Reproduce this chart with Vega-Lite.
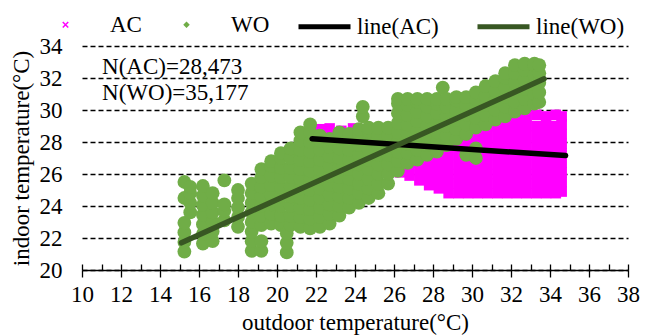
{
  "$schema": "https://vega.github.io/schema/vega-lite/v6.json",
  "width": 546,
  "height": 224,
  "autosize": {"type": "none"},
  "padding": {"left": 82, "top": 46, "right": 24, "bottom": 65},
  "config": {"view": {"stroke": null}, "font": "Liberation Serif"},
  "datasets": {
    "pts": [
      {"g":"AC","x":22.2,"y":28.2},{"g":"AC","x":22.2,"y":28.8},{"g":"AC","x":22.7,"y":28.3},{"g":"AC","x":22.7,"y":28.85},
      {"g":"AC","x":23.3,"y":28.2},{"g":"AC","x":23.3,"y":28.7},{"g":"AC","x":23.9,"y":28.3},{"g":"AC","x":23.9,"y":28.85},
      {"g":"AC","x":24.5,"y":28.2},{"g":"AC","x":24.5,"y":28.7},{"g":"AC","x":25.1,"y":28.2},{"g":"AC","x":25.1,"y":28.7},
      {"g":"AC","x":25.7,"y":26.3},{"g":"AC","x":25.7,"y":26.9},{"g":"AC","x":25.7,"y":27.5},{"g":"AC","x":25.7,"y":28.1},{"g":"AC","x":25.7,"y":28.6},
      {"g":"AC","x":26.3,"y":26.1},{"g":"AC","x":26.3,"y":26.7},{"g":"AC","x":26.3,"y":27.3},{"g":"AC","x":26.3,"y":27.9},{"g":"AC","x":26.3,"y":28.5},
      {"g":"AC","x":26.8,"y":25.9},{"g":"AC","x":26.8,"y":26.5},{"g":"AC","x":26.8,"y":27.1},{"g":"AC","x":26.8,"y":27.7},{"g":"AC","x":26.8,"y":28.3},
      {"g":"AC","x":27.3,"y":25.6},{"g":"AC","x":27.3,"y":26.2},{"g":"AC","x":27.3,"y":26.8},{"g":"AC","x":27.3,"y":27.4},{"g":"AC","x":27.3,"y":28.0},{"g":"AC","x":27.3,"y":28.6},
      {"g":"AC","x":27.8,"y":25.3},{"g":"AC","x":27.8,"y":25.9},{"g":"AC","x":27.8,"y":26.5},{"g":"AC","x":27.8,"y":27.1},{"g":"AC","x":27.8,"y":27.7},{"g":"AC","x":27.8,"y":28.3},
      {"g":"AC","x":28.3,"y":25.1},{"g":"AC","x":28.3,"y":25.7},{"g":"AC","x":28.3,"y":26.3},{"g":"AC","x":28.3,"y":26.9},{"g":"AC","x":28.3,"y":27.5},{"g":"AC","x":28.3,"y":28.1},{"g":"AC","x":28.3,"y":28.6},
      {"g":"AC","x":28.8,"y":24.8},{"g":"AC","x":28.8,"y":25.4},{"g":"AC","x":28.8,"y":26.0},{"g":"AC","x":28.8,"y":26.6},{"g":"AC","x":28.8,"y":27.2},{"g":"AC","x":28.8,"y":27.8},{"g":"AC","x":28.8,"y":28.4},
      {"g":"AC","x":29.3,"y":24.8},{"g":"AC","x":29.3,"y":25.4},{"g":"AC","x":29.3,"y":26.0},{"g":"AC","x":29.3,"y":26.6},{"g":"AC","x":29.3,"y":27.2},{"g":"AC","x":29.3,"y":27.8},{"g":"AC","x":29.3,"y":28.4},
      {"g":"AC","x":29.8,"y":24.8},{"g":"AC","x":29.8,"y":25.4},{"g":"AC","x":29.8,"y":26.0},{"g":"AC","x":29.8,"y":26.6},{"g":"AC","x":29.8,"y":27.2},{"g":"AC","x":29.8,"y":27.8},{"g":"AC","x":29.8,"y":28.4},{"g":"AC","x":29.8,"y":28.9},
      {"g":"AC","x":30.3,"y":24.8},{"g":"AC","x":30.3,"y":25.4},{"g":"AC","x":30.3,"y":26.0},{"g":"AC","x":30.3,"y":26.6},{"g":"AC","x":30.3,"y":27.2},{"g":"AC","x":30.3,"y":27.8},{"g":"AC","x":30.3,"y":28.4},{"g":"AC","x":30.3,"y":28.9},
      {"g":"AC","x":30.8,"y":24.8},{"g":"AC","x":30.8,"y":25.4},{"g":"AC","x":30.8,"y":26.0},{"g":"AC","x":30.8,"y":26.6},{"g":"AC","x":30.8,"y":27.2},{"g":"AC","x":30.8,"y":27.8},{"g":"AC","x":30.8,"y":28.4},{"g":"AC","x":30.8,"y":29.0},
      {"g":"AC","x":31.3,"y":24.8},{"g":"AC","x":31.3,"y":25.4},{"g":"AC","x":31.3,"y":26.0},{"g":"AC","x":31.3,"y":26.6},{"g":"AC","x":31.3,"y":27.2},{"g":"AC","x":31.3,"y":27.8},{"g":"AC","x":31.3,"y":28.4},{"g":"AC","x":31.3,"y":29.0},
      {"g":"AC","x":31.8,"y":24.8},{"g":"AC","x":31.8,"y":25.4},{"g":"AC","x":31.8,"y":26.0},{"g":"AC","x":31.8,"y":26.6},{"g":"AC","x":31.8,"y":27.2},{"g":"AC","x":31.8,"y":27.8},{"g":"AC","x":31.8,"y":28.4},{"g":"AC","x":31.8,"y":29.0},{"g":"AC","x":31.8,"y":29.4},
      {"g":"AC","x":32.3,"y":24.8},{"g":"AC","x":32.3,"y":25.4},{"g":"AC","x":32.3,"y":26.0},{"g":"AC","x":32.3,"y":26.6},{"g":"AC","x":32.3,"y":27.2},{"g":"AC","x":32.3,"y":27.8},{"g":"AC","x":32.3,"y":28.4},{"g":"AC","x":32.3,"y":29.0},{"g":"AC","x":32.3,"y":29.6},
      {"g":"AC","x":32.8,"y":24.8},{"g":"AC","x":32.8,"y":25.4},{"g":"AC","x":32.8,"y":26.0},{"g":"AC","x":32.8,"y":26.6},{"g":"AC","x":32.8,"y":27.2},{"g":"AC","x":32.8,"y":27.8},{"g":"AC","x":32.8,"y":28.4},{"g":"AC","x":32.8,"y":29.0},{"g":"AC","x":32.8,"y":29.6},
      {"g":"AC","x":33.3,"y":24.8},{"g":"AC","x":33.3,"y":25.4},{"g":"AC","x":33.3,"y":26.0},{"g":"AC","x":33.3,"y":26.6},{"g":"AC","x":33.3,"y":27.2},{"g":"AC","x":33.3,"y":27.8},{"g":"AC","x":33.3,"y":28.4},{"g":"AC","x":33.3,"y":29.0},{"g":"AC","x":33.3,"y":29.7},
      {"g":"AC","x":33.8,"y":24.8},{"g":"AC","x":33.8,"y":25.4},{"g":"AC","x":33.8,"y":26.0},{"g":"AC","x":33.8,"y":26.6},{"g":"AC","x":33.8,"y":27.2},{"g":"AC","x":33.8,"y":27.8},{"g":"AC","x":33.8,"y":28.4},{"g":"AC","x":33.8,"y":29.0},{"g":"AC","x":33.8,"y":29.6},
      {"g":"AC","x":34.3,"y":24.8},{"g":"AC","x":34.3,"y":25.4},{"g":"AC","x":34.3,"y":26.0},{"g":"AC","x":34.3,"y":26.6},{"g":"AC","x":34.3,"y":27.2},{"g":"AC","x":34.3,"y":27.8},{"g":"AC","x":34.3,"y":28.4},{"g":"AC","x":34.3,"y":29.0},{"g":"AC","x":34.3,"y":29.7},
      {"g":"AC","x":34.6,"y":24.9},{"g":"AC","x":34.6,"y":25.5},{"g":"AC","x":34.6,"y":26.1},{"g":"AC","x":34.6,"y":26.7},{"g":"AC","x":34.6,"y":27.3},{"g":"AC","x":34.6,"y":27.9},{"g":"AC","x":34.6,"y":28.5},{"g":"AC","x":34.6,"y":29.1},{"g":"AC","x":34.6,"y":29.6},

      {"g":"WO","x":15.25,"y":21.15},{"g":"WO","x":15.25,"y":21.75},{"g":"WO","x":15.25,"y":22.35},{"g":"WO","x":15.25,"y":22.95},{"g":"WO","x":15.25,"y":24.5},{"g":"WO","x":15.25,"y":25.5},
      {"g":"WO","x":15.55,"y":23.6},{"g":"WO","x":15.55,"y":24.2},{"g":"WO","x":15.55,"y":24.8},{"g":"WO","x":15.55,"y":25.2},
      {"g":"WO","x":16.2,"y":21.65},{"g":"WO","x":16.2,"y":22.25},{"g":"WO","x":16.2,"y":22.85},{"g":"WO","x":16.2,"y":23.45},{"g":"WO","x":16.2,"y":24.05},{"g":"WO","x":16.2,"y":24.65},{"g":"WO","x":16.2,"y":25.25},
      {"g":"WO","x":16.7,"y":21.8},{"g":"WO","x":16.7,"y":22.4},{"g":"WO","x":16.7,"y":23.0},{"g":"WO","x":16.7,"y":23.6},{"g":"WO","x":16.7,"y":24.2},{"g":"WO","x":16.7,"y":24.8},
      {"g":"WO","x":17.3,"y":23.1},{"g":"WO","x":17.3,"y":23.7},{"g":"WO","x":17.3,"y":24.1},{"g":"WO","x":17.3,"y":25.6},
      {"g":"WO","x":18.0,"y":22.7},{"g":"WO","x":18.0,"y":23.3},{"g":"WO","x":18.0,"y":23.9},{"g":"WO","x":18.0,"y":24.5},{"g":"WO","x":18.0,"y":25.0},
      {"g":"WO","x":18.7,"y":21.2},{"g":"WO","x":18.7,"y":21.8},{"g":"WO","x":18.7,"y":22.4},{"g":"WO","x":18.7,"y":23.0},{"g":"WO","x":18.7,"y":23.6},{"g":"WO","x":18.7,"y":24.2},{"g":"WO","x":18.7,"y":24.8},{"g":"WO","x":18.7,"y":25.4},
      {"g":"WO","x":19.2,"y":21.2},{"g":"WO","x":19.2,"y":21.8},{"g":"WO","x":19.2,"y":22.8},{"g":"WO","x":19.2,"y":23.4},{"g":"WO","x":19.2,"y":24.0},{"g":"WO","x":19.2,"y":24.6},{"g":"WO","x":19.2,"y":25.2},{"g":"WO","x":19.2,"y":25.8},{"g":"WO","x":19.2,"y":26.3},
      {"g":"WO","x":19.7,"y":22.9},{"g":"WO","x":19.7,"y":23.5},{"g":"WO","x":19.7,"y":24.1},{"g":"WO","x":19.7,"y":24.7},{"g":"WO","x":19.7,"y":25.3},{"g":"WO","x":19.7,"y":25.9},{"g":"WO","x":19.7,"y":26.5},{"g":"WO","x":19.7,"y":26.8},
      {"g":"WO","x":20.2,"y":22.8},{"g":"WO","x":20.2,"y":23.4},{"g":"WO","x":20.2,"y":24.0},{"g":"WO","x":20.2,"y":24.6},{"g":"WO","x":20.2,"y":25.2},{"g":"WO","x":20.2,"y":25.8},{"g":"WO","x":20.2,"y":26.4},{"g":"WO","x":20.2,"y":27.0},{"g":"WO","x":20.2,"y":27.3},
      {"g":"WO","x":20.5,"y":21.1},{"g":"WO","x":20.5,"y":21.7},{"g":"WO","x":20.5,"y":22.3},
      {"g":"WO","x":20.7,"y":22.8},{"g":"WO","x":20.7,"y":23.4},{"g":"WO","x":20.7,"y":24.0},{"g":"WO","x":20.7,"y":24.6},{"g":"WO","x":20.7,"y":25.2},{"g":"WO","x":20.7,"y":25.8},{"g":"WO","x":20.7,"y":26.4},{"g":"WO","x":20.7,"y":27.0},{"g":"WO","x":20.7,"y":27.6},
      {"g":"WO","x":21.2,"y":22.7},{"g":"WO","x":21.2,"y":23.3},{"g":"WO","x":21.2,"y":23.9},{"g":"WO","x":21.2,"y":24.5},{"g":"WO","x":21.2,"y":25.1},{"g":"WO","x":21.2,"y":25.7},{"g":"WO","x":21.2,"y":26.3},{"g":"WO","x":21.2,"y":26.9},{"g":"WO","x":21.2,"y":27.5},{"g":"WO","x":21.2,"y":28.1},{"g":"WO","x":21.2,"y":28.6},
      {"g":"WO","x":21.7,"y":22.6},{"g":"WO","x":21.7,"y":23.2},{"g":"WO","x":21.7,"y":23.8},{"g":"WO","x":21.7,"y":24.4},{"g":"WO","x":21.7,"y":25.0},{"g":"WO","x":21.7,"y":25.6},{"g":"WO","x":21.7,"y":26.2},{"g":"WO","x":21.7,"y":26.8},{"g":"WO","x":21.7,"y":27.4},{"g":"WO","x":21.7,"y":28.0},{"g":"WO","x":21.7,"y":28.6},{"g":"WO","x":21.7,"y":29.1},
      {"g":"WO","x":22.2,"y":22.7},{"g":"WO","x":22.2,"y":23.3},{"g":"WO","x":22.2,"y":23.9},{"g":"WO","x":22.2,"y":24.5},{"g":"WO","x":22.2,"y":25.1},{"g":"WO","x":22.2,"y":25.7},{"g":"WO","x":22.2,"y":26.3},{"g":"WO","x":22.2,"y":26.9},{"g":"WO","x":22.2,"y":27.5},{"g":"WO","x":22.2,"y":28.1},{"g":"WO","x":22.2,"y":28.4},
      {"g":"WO","x":22.7,"y":22.9},{"g":"WO","x":22.7,"y":23.5},{"g":"WO","x":22.7,"y":24.1},{"g":"WO","x":22.7,"y":24.7},{"g":"WO","x":22.7,"y":25.3},{"g":"WO","x":22.7,"y":25.9},{"g":"WO","x":22.7,"y":26.5},{"g":"WO","x":22.7,"y":27.1},{"g":"WO","x":22.7,"y":27.7},{"g":"WO","x":22.7,"y":28.2},
      {"g":"WO","x":23.2,"y":23.4},{"g":"WO","x":23.2,"y":24.0},{"g":"WO","x":23.2,"y":24.6},{"g":"WO","x":23.2,"y":25.2},{"g":"WO","x":23.2,"y":25.8},{"g":"WO","x":23.2,"y":26.4},{"g":"WO","x":23.2,"y":27.0},{"g":"WO","x":23.2,"y":27.6},{"g":"WO","x":23.2,"y":28.2},{"g":"WO","x":23.2,"y":28.6},
      {"g":"WO","x":23.7,"y":23.9},{"g":"WO","x":23.7,"y":24.5},{"g":"WO","x":23.7,"y":25.1},{"g":"WO","x":23.7,"y":25.7},{"g":"WO","x":23.7,"y":26.3},{"g":"WO","x":23.7,"y":26.9},{"g":"WO","x":23.7,"y":27.5},{"g":"WO","x":23.7,"y":28.1},{"g":"WO","x":23.7,"y":28.5},
      {"g":"WO","x":24.2,"y":24.2},{"g":"WO","x":24.2,"y":24.8},{"g":"WO","x":24.2,"y":25.4},{"g":"WO","x":24.2,"y":26.0},{"g":"WO","x":24.2,"y":26.6},{"g":"WO","x":24.2,"y":27.2},{"g":"WO","x":24.2,"y":27.8},{"g":"WO","x":24.2,"y":28.4},{"g":"WO","x":24.2,"y":28.8},
      {"g":"WO","x":24.4,"y":29.6},{"g":"WO","x":24.4,"y":30.2},
      {"g":"WO","x":24.7,"y":24.5},{"g":"WO","x":24.7,"y":25.1},{"g":"WO","x":24.7,"y":25.7},{"g":"WO","x":24.7,"y":26.3},{"g":"WO","x":24.7,"y":26.9},{"g":"WO","x":24.7,"y":27.5},{"g":"WO","x":24.7,"y":28.1},{"g":"WO","x":24.7,"y":28.7},{"g":"WO","x":24.7,"y":28.9},
      {"g":"WO","x":25.2,"y":24.8},{"g":"WO","x":25.2,"y":25.4},{"g":"WO","x":25.2,"y":26.0},{"g":"WO","x":25.2,"y":26.6},{"g":"WO","x":25.2,"y":27.2},{"g":"WO","x":25.2,"y":27.8},{"g":"WO","x":25.2,"y":28.4},{"g":"WO","x":25.2,"y":28.9},
      {"g":"WO","x":25.7,"y":25.4},{"g":"WO","x":25.7,"y":26.0},{"g":"WO","x":25.7,"y":26.6},{"g":"WO","x":25.7,"y":27.2},{"g":"WO","x":25.7,"y":27.8},{"g":"WO","x":25.7,"y":28.4},{"g":"WO","x":25.7,"y":28.9},
      {"g":"WO","x":26.2,"y":26.2},{"g":"WO","x":26.2,"y":26.8},{"g":"WO","x":26.2,"y":27.4},{"g":"WO","x":26.2,"y":28.0},{"g":"WO","x":26.2,"y":28.6},{"g":"WO","x":26.2,"y":29.2},{"g":"WO","x":26.2,"y":29.8},{"g":"WO","x":26.2,"y":30.4},{"g":"WO","x":26.2,"y":30.7},
      {"g":"WO","x":26.7,"y":26.7},{"g":"WO","x":26.7,"y":27.3},{"g":"WO","x":26.7,"y":27.9},{"g":"WO","x":26.7,"y":28.5},{"g":"WO","x":26.7,"y":29.1},{"g":"WO","x":26.7,"y":29.7},{"g":"WO","x":26.7,"y":30.3},{"g":"WO","x":26.7,"y":30.7},
      {"g":"WO","x":27.2,"y":26.9},{"g":"WO","x":27.2,"y":27.5},{"g":"WO","x":27.2,"y":28.1},{"g":"WO","x":27.2,"y":28.7},{"g":"WO","x":27.2,"y":29.3},{"g":"WO","x":27.2,"y":29.9},{"g":"WO","x":27.2,"y":30.5},{"g":"WO","x":27.2,"y":30.7},
      {"g":"WO","x":27.7,"y":27.2},{"g":"WO","x":27.7,"y":27.8},{"g":"WO","x":27.7,"y":28.4},{"g":"WO","x":27.7,"y":29.0},{"g":"WO","x":27.7,"y":29.6},{"g":"WO","x":27.7,"y":30.2},{"g":"WO","x":27.7,"y":30.7},
      {"g":"WO","x":28.2,"y":27.4},{"g":"WO","x":28.2,"y":28.0},{"g":"WO","x":28.2,"y":28.6},{"g":"WO","x":28.2,"y":29.2},{"g":"WO","x":28.2,"y":29.8},{"g":"WO","x":28.2,"y":30.4},{"g":"WO","x":28.2,"y":30.7},
      {"g":"WO","x":28.5,"y":31.4},
      {"g":"WO","x":28.7,"y":27.8},{"g":"WO","x":28.7,"y":28.4},{"g":"WO","x":28.7,"y":29.0},{"g":"WO","x":28.7,"y":29.6},{"g":"WO","x":28.7,"y":30.2},{"g":"WO","x":28.7,"y":30.7},
      {"g":"WO","x":29.2,"y":28.2},{"g":"WO","x":29.2,"y":28.8},{"g":"WO","x":29.2,"y":29.4},{"g":"WO","x":29.2,"y":30.0},{"g":"WO","x":29.2,"y":30.6},{"g":"WO","x":29.2,"y":30.8},
      {"g":"WO","x":29.7,"y":27.2},{"g":"WO","x":29.7,"y":28.5},{"g":"WO","x":29.7,"y":29.1},{"g":"WO","x":29.7,"y":29.7},{"g":"WO","x":29.7,"y":30.3},{"g":"WO","x":29.7,"y":30.8},
      {"g":"WO","x":30.2,"y":27.0},{"g":"WO","x":30.2,"y":27.6},{"g":"WO","x":30.2,"y":28.9},{"g":"WO","x":30.2,"y":29.5},{"g":"WO","x":30.2,"y":30.1},{"g":"WO","x":30.2,"y":30.7},{"g":"WO","x":30.2,"y":31.1},
      {"g":"WO","x":30.7,"y":29.1},{"g":"WO","x":30.7,"y":29.7},{"g":"WO","x":30.7,"y":30.3},{"g":"WO","x":30.7,"y":30.9},{"g":"WO","x":30.7,"y":31.5},
      {"g":"WO","x":31.2,"y":29.4},{"g":"WO","x":31.2,"y":30.0},{"g":"WO","x":31.2,"y":30.6},{"g":"WO","x":31.2,"y":31.2},{"g":"WO","x":31.2,"y":31.8},
      {"g":"WO","x":31.7,"y":29.6},{"g":"WO","x":31.7,"y":30.2},{"g":"WO","x":31.7,"y":30.8},{"g":"WO","x":31.7,"y":31.4},{"g":"WO","x":31.7,"y":32.0},{"g":"WO","x":31.7,"y":32.3},
      {"g":"WO","x":32.2,"y":29.9},{"g":"WO","x":32.2,"y":30.5},{"g":"WO","x":32.2,"y":31.1},{"g":"WO","x":32.2,"y":31.7},{"g":"WO","x":32.2,"y":32.3},{"g":"WO","x":32.2,"y":32.8},
      {"g":"WO","x":32.7,"y":30.1},{"g":"WO","x":32.7,"y":30.7},{"g":"WO","x":32.7,"y":31.3},{"g":"WO","x":32.7,"y":31.9},{"g":"WO","x":32.7,"y":32.5},{"g":"WO","x":32.7,"y":32.9},
      {"g":"WO","x":33.2,"y":30.4},{"g":"WO","x":33.2,"y":31.0},{"g":"WO","x":33.2,"y":31.6},{"g":"WO","x":33.2,"y":32.2},{"g":"WO","x":33.2,"y":32.8},{"g":"WO","x":33.2,"y":32.9},
      {"g":"WO","x":33.45,"y":30.5},{"g":"WO","x":33.45,"y":31.1},{"g":"WO","x":33.45,"y":31.7},{"g":"WO","x":33.45,"y":32.3},{"g":"WO","x":33.45,"y":32.8}
    ],
    "fits": [
      {"g":"line(AC)","x":21.8,"y":28.2},{"g":"line(AC)","x":34.8,"y":27.15},
      {"g":"line(WO)","x":15.1,"y":21.7},{"g":"line(WO)","x":33.7,"y":31.95}
    ],
    "notes": [
      {"t":"N(AC)=28,473","x":11.03,"y":32.69},
      {"t":"N(WO)=35,177","x":11.03,"y":31.06}
    ]
  },
  "encoding": {
    "y": {"field": "y", "type": "quantitative", "scale": {"domain": [20, 34], "nice": false, "zero": false},
      "axis": {"values": [20,22,24,26,28,30,32,34], "domain": false, "ticks": false, "grid": true, "gridDash": [5, 3], "gridColor": "#000", "gridWidth": 1.3,
        "labelFont": "Liberation Serif", "labelFontSize": 23, "labelColor": "#000", "labelPadding": 20, "labelOverlap": false,
        "title": "indoor temperature(°C)", "titleFont": "Liberation Serif", "titleFontSize": 23, "titleFontWeight": "normal", "titleColor": "#000", "titlePadding": 6}}
  },
  "resolve": {"scale": {"color": "independent", "shape": "independent", "size": "independent"}, "axis": {"x": "independent"}},
  "layer": [
    {
      "data": {"name": "pts"},
      "mark": {"type": "point", "filled": false, "size": 30, "strokeWidth": 1.5, "opacity": 1},
      "encoding": {
        "x": {"field": "x", "type": "quantitative", "scale": {"domain": [10, 38], "nice": false, "zero": false},
          "axis": {"orient": "bottom", "values": [10,12,14,16,18,20,22,24,26,28,30,32,34,36,38], "grid": false,
            "domain": true, "domainColor": "#000", "domainWidth": 1.3, "ticks": true, "tickSize": 7, "tickColor": "#000", "tickWidth": 1.3,
            "labelFont": "Liberation Serif", "labelFontSize": 23, "labelColor": "#000", "labelPadding": 6, "labelOverlap": false, "labelFlush": false,
            "title": "outdoor temperature(°C)", "titleFont": "Liberation Serif", "titleFontSize": 23, "titleFontWeight": "normal", "titleColor": "#000", "titlePadding": 5}},
        "shape": {"field": "g", "type": "nominal", "scale": {"domain": ["AC", "WO"], "range": ["M-1,-1L1,1M-1,1L1,-1", "M0,-0.8L0.8,0L0,0.8L-0.8,0ZM-0.8,0L0.8,0M0,-0.8L0,0.8"]}},
        "color": {"field": "g", "type": "nominal",
          "scale": {"domain": ["AC", "WO"], "range": ["#FF00FF", "#70AD47"]},
          "legend": {"orient": "none", "legendX": -28, "legendY": -33, "direction": "horizontal", "title": null, "padding": 0,
            "labelFont": "Liberation Serif", "labelFontSize": 23, "labelColor": "#000", "labelOffset": 33, "columnPadding": 33,
            "symbolSize": 30, "symbolStrokeWidth": 1.5}}
      }
    },
    {
      "data": {"name": "pts"},
      "mark": {"type": "point", "filled": true, "opacity": 1},
      "encoding": {
        "x": {"field": "x", "type": "quantitative", "axis": null},
        "shape": {"field": "g", "type": "nominal", "scale": {"domain": ["AC", "WO"], "range": ["square", "circle"]}, "legend": null},
        "size": {"field": "g", "type": "nominal", "scale": {"domain": ["AC", "WO"], "range": [110, 190]}, "legend": null},
        "color": {"field": "g", "type": "nominal", "scale": {"domain": ["AC", "WO"], "range": ["#FF00FF", "#70AD47"]}, "legend": null}
      }
    },
    {
      "data": {"name": "fits"},
      "mark": {"type": "line", "strokeWidth": 5.5, "strokeCap": "round"},
      "encoding": {
        "x": {"field": "x", "type": "quantitative",
          "axis": {"orient": "bottom", "values": [10,11,12,13,14,15,16,17,18,19,20,21,22,23,24,25,26,27,28,29,30,31,32,33,34,35,36,37,38],
            "offset": -6, "tickSize": 6, "tickColor": "#000", "tickWidth": 1.3, "domain": false, "labels": false, "title": null, "grid": false}},
        "color": {"field": "g", "type": "nominal",
          "scale": {"domain": ["line(AC)", "line(WO)"], "range": ["#000000", "#385723"]},
          "legend": {"orient": "none", "legendX": 214, "legendY": -48, "direction": "horizontal", "title": null, "padding": 0,
            "labelFont": "Liberation Serif", "labelFontSize": 23, "labelColor": "#000", "labelOffset": 4, "columnPadding": 28,
            "symbolType": "stroke", "symbolSize": 2704, "symbolStrokeWidth": 5}}
      }
    },
    {
      "data": {"name": "notes"},
      "mark": {"type": "text", "align": "left", "baseline": "middle", "font": "Liberation Serif", "fontSize": 23, "color": "#000"},
      "encoding": {
        "x": {"field": "x", "type": "quantitative", "axis": null},
        "text": {"field": "t", "type": "nominal"}
      }
    }
  ]
}
